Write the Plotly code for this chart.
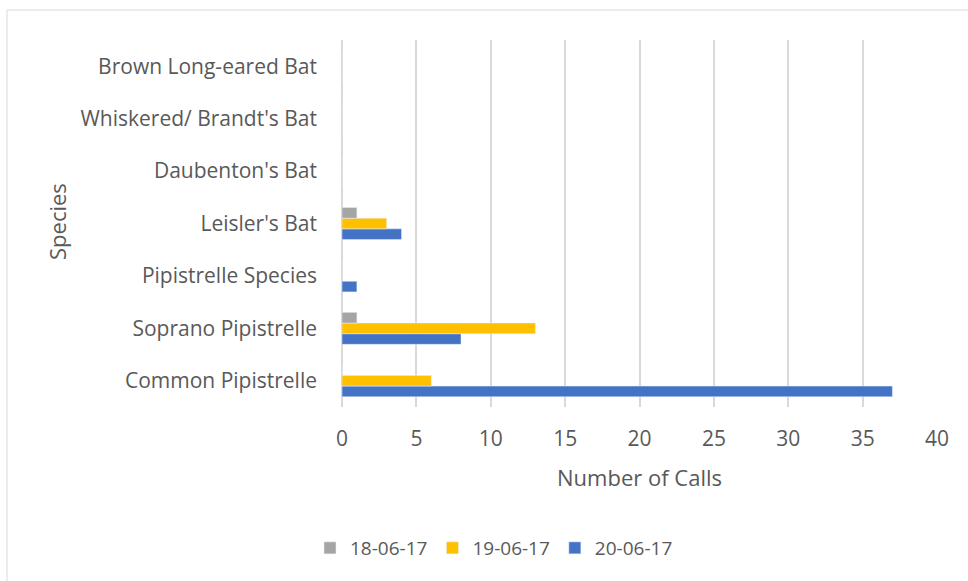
import plotly.graph_objects as go

species = ["Common Pipistrelle", "Soprano Pipistrelle", "Pipistrelle Species",
           "Leisler's Bat", "Daubenton's Bat", "Whiskered/ Brandt's Bat",
           "Brown Long-eared Bat"]
calls_180617 = [0, 1, 0, 1, 0, 0, 0]
calls_190617 = [6, 13, 0, 3, 0, 0, 0]
calls_200617 = [37, 8, 1, 4, 0, 0, 0]
x_ticks = [0, 5, 10, 15, 20, 25, 30, 35, 40]

FONT = "Open Sans"
TXT = "#595959"

fig = go.Figure()
# Plotly stacks grouped horizontal bars bottom-up, so add in reverse order
fig.add_trace(go.Bar(y=species, x=calls_200617, name="20-06-17", orientation="h",
                     marker=dict(color="#4472C4")))
fig.add_trace(go.Bar(y=species, x=calls_190617, name="19-06-17", orientation="h",
                     marker=dict(color="#FFC000")))
fig.add_trace(go.Bar(y=species, x=calls_180617, name="18-06-17", orientation="h",
                     marker=dict(color="#A5A5A5")))

W, H = 968, 581
L, R, T, B = 342, 31, 40, 174
pw = W - L - R
ph = H - T - B

def px_x(p):
    return (p - L) / pw

def px_y(p):
    return (H - B - p) / ph

fig.update_layout(
    width=W, height=H,
    margin=dict(l=L, r=R, t=T, b=B),
    paper_bgcolor="white", plot_bgcolor="white",
    barmode="group", bargap=0.39, bargroupgap=0,
    font=dict(family=FONT, size=15, color=TXT),
    showlegend=True,
    legend=dict(orientation="h", traceorder="reversed",
                x=px_x(494), xanchor="center", y=px_y(548), yanchor="middle",
                font=dict(family=FONT, size=19, color=TXT)),
    xaxis=dict(range=[0, 40], tickvals=x_ticks, showgrid=True,
               gridcolor="#d9d9d9", gridwidth=1.5, zeroline=True,
               zerolinecolor="#d9d9d9", zerolinewidth=1.5,
               showline=False, ticks="", ticklabelstandoff=17,
               tickfont=dict(family=FONT, size=21, color=TXT)),
    yaxis=dict(categoryorder="array", categoryarray=species,
               showgrid=False, zeroline=False, showline=False, ticks="",
               ticklabelstandoff=24,
               tickfont=dict(family=FONT, size=21, color=TXT)),
    annotations=[
        dict(text="Number of Calls", xref="paper", yref="paper",
             x=px_x(639), y=px_y(477), xanchor="center", yanchor="middle",
             showarrow=False, font=dict(family=FONT, size=22, color=TXT)),
        dict(text="Species", xref="paper", yref="paper",
             x=px_x(57), y=px_y(222), xanchor="center", yanchor="middle",
             textangle=-90, showarrow=False,
             font=dict(family=FONT, size=22, color=TXT)),
    ],
    shapes=[
        dict(type="rect", xref="paper", yref="paper",
             x0=px_x(7), x1=px_x(1010), y0=px_y(10), y1=px_y(620),
             line=dict(color="#d9d9d9", width=1), layer="below"),
    ],
)

fig.write_html("out.html",
               config={"displayModeBar": False},
               post_script="document.body.style.margin='0';document.body.style.overflow='hidden';")
